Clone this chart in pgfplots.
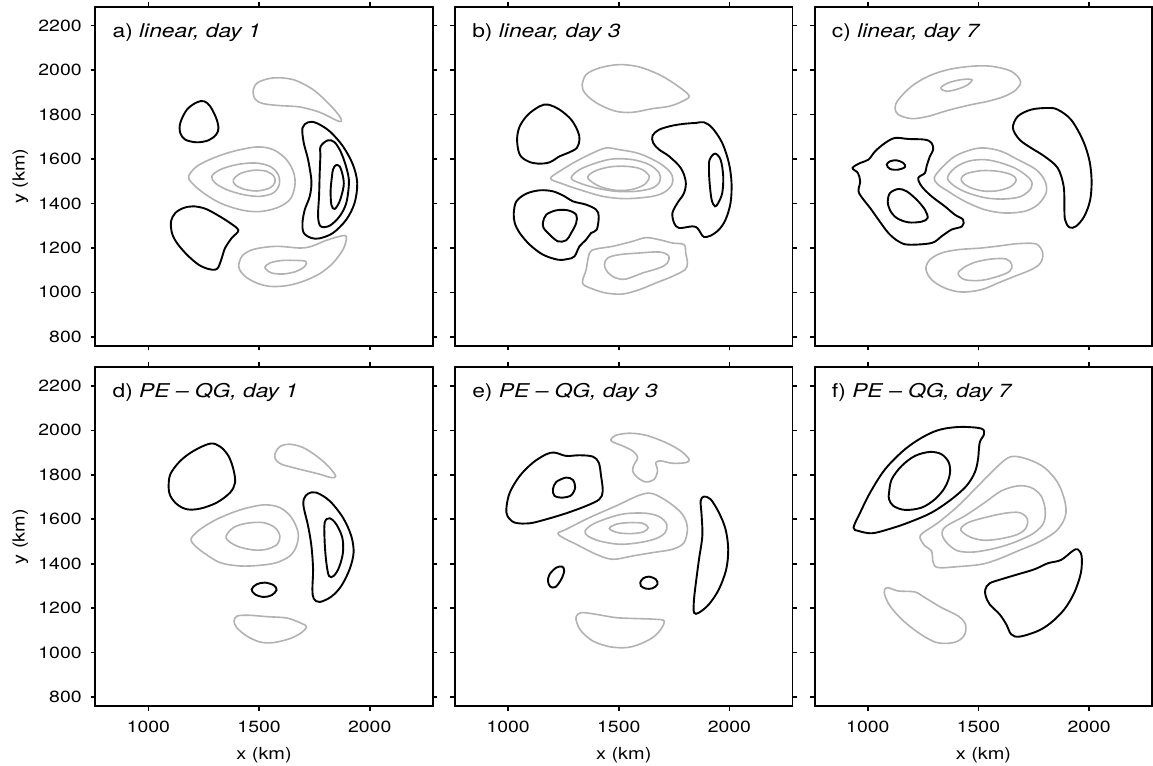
\documentclass[border=0pt]{standalone}
\usepackage{fontspec}
\setmainfont{TeX Gyre Heros}
\usepackage{graphicx}
\usepackage{pgfplots}
\pgfplotsset{compat=1.18}
\usepgfplotslibrary{groupplots}
\definecolor{poscol}{RGB}{178,178,178}
% text in this figure is set slightly wide
\newcommand{\wide}[1]{\scalebox{1.2}[1]{#1}}
\pgfplotsset{
  pos/.style={color=poscol, line width=0.8pt, smooth cycle, tension=0.55, mark=none},
  neg/.style={color=black, line width=0.95pt, smooth cycle, tension=0.55, mark=none},
}
\newcommand{\paneltitle}[1]{\node[anchor=base west, inner sep=0pt, font=\fontsize{9.5}{11}\selectfont] at (rel axis cs:0.05,0.909) {\wide{#1}};}
\begin{document}
\begin{tikzpicture}
\begin{groupplot}[
  group style={group size=3 by 2, horizontal sep=11.1pt, vertical sep=10.65pt,
    xticklabels at=edge bottom, yticklabels at=edge left,
    xlabels at=edge bottom, ylabels at=edge left},
  width=168.75pt, height=169.5pt, scale only axis,
  xmin=760, xmax=2285, ymin=760, ymax=2285,
  xtick={1000,1500,2000}, ytick={800,1000,...,2200},
  tick align=outside, tick pos=both, major tick length=2.3pt,
  axis line style={line width=0.8pt},
  every tick/.style={line width=0.8pt, black},
  ticklabel style={font=\fontsize{8.1}{9.5}\selectfont},
  xticklabel={\wide{\pgfmathprintnumber{\tick}}},
  yticklabel={\wide{\pgfmathprintnumber{\tick}}},
  xticklabel style={yshift=-1.5pt},
  yticklabel style={xshift=-1pt},
  xlabel={\wide{x (km)}}, ylabel={\wide{y (km)}},
  every axis x label/.style={at={(axis description cs:0.5,-0.1445)}, anchor=center, font=\fontsize{8.3}{10}\selectfont},
  every axis y label/.style={at={(axis description cs:-0.222,0.5)}, rotate=90, anchor=center, font=\fontsize{8.3}{10}\selectfont},
  /pgf/number format/1000 sep={}, /pgf/number format/assume math mode=true,
]
% ---------- a) linear, day 1 ----------
\nextgroupplot
\coordinate (TL) at (rel axis cs:0,1);
\paneltitle{a) \textit{linear, day 1}}
\addplot[neg] coordinates {(1144,1762) (1174,1822) (1219,1855) (1252,1859.5) (1279,1837) (1306,1784.5) (1316.5,1739.5) (1306,1709.5) (1271.5,1684) (1219,1675) (1166.5,1687) (1144,1717)};
\addplot[neg] coordinates {(1102,1319.5) (1121.5,1357) (1159,1379.5) (1204,1387) (1256.5,1376.5) (1309,1349.5) (1369,1312) (1406.5,1279) (1376.5,1244.5) (1346.5,1199.5) (1331.5,1154.5) (1316.5,1114) (1301.5,1102) (1271.5,1105) (1226.5,1124.5) (1174,1169.5) (1129,1222) (1106.5,1267)};
\addplot[pos] coordinates {(1181.5,1522) (1219,1567) (1294,1604.5) (1384,1634.5) (1489,1654) (1564,1642) (1624,1597) (1657,1537) (1661.5,1477) (1639,1417) (1579,1379.5) (1496.5,1363) (1414,1372) (1324,1402) (1249,1447) (1196.5,1492)};
\addplot[pos] coordinates {(1286.5,1522) (1324,1552) (1399,1574.5) (1481.5,1582) (1549,1567) (1586.5,1529.5) (1591,1484.5) (1564,1447) (1504,1432) (1429,1439.5) (1354,1462) (1301.5,1492)};
\addplot[pos] coordinates {(1384,1507) (1414,1534) (1474,1549) (1534,1544.5) (1567,1522) (1571.5,1495) (1549,1469.5) (1489,1456) (1429,1465) (1391.5,1484.5)};
\addplot[pos] coordinates {(1474,1912) (1496.5,1945) (1564,1964.5) (1654,1957) (1744,1912) (1819,1844.5) (1864,1792) (1871.5,1769.5) (1849,1774) (1774,1810) (1684,1834) (1594,1840) (1519,1849) (1481.5,1870)};
\addplot[pos] coordinates {(1409.5,1132) (1429,1169.5) (1481.5,1195) (1579,1207) (1684,1199.5) (1736.5,1207) (1804,1234) (1864,1252) (1891,1255) (1894,1237) (1879,1192) (1834,1132) (1774,1084) (1699,1049.5) (1624,1030) (1549,1027) (1489,1042) (1436.5,1072) (1411,1105)};
\addplot[pos] coordinates {(1526.5,1114) (1549,1132) (1594,1142.5) (1654,1144) (1711,1139.5) (1706.5,1117) (1669,1094.5) (1609,1082.5) (1556.5,1087) (1534,1102)};
\addplot[neg] coordinates {(1696,1739.5) (1721.5,1765) (1759,1762) (1819,1724.5) (1879,1657) (1924,1574.5) (1943.5,1492) (1931.5,1402) (1894,1327) (1834,1267) (1774,1243) (1736.5,1244.5) (1702,1267) (1696,1312) (1706.5,1372) (1729,1432) (1736.5,1499.5) (1721.5,1597) (1702,1672)};
\addplot[neg] coordinates {(1778.5,1657) (1811.5,1684) (1841.5,1675) (1871.5,1627) (1897,1552) (1906,1492) (1894,1402) (1864,1342) (1819,1300) (1778.5,1297) (1766.5,1342) (1771,1432) (1774,1537) (1777,1612)};
\addplot[neg] coordinates {(1834,1552) (1846,1571.5) (1864,1567) (1879,1522) (1882,1477) (1864,1409.5) (1841.5,1375) (1826.5,1394.5) (1823.5,1462) (1829.5,1522)};
% ---------- b) linear, day 3 ----------
\nextgroupplot
\paneltitle{b) \textit{linear, day 3}}
\addplot[pos] coordinates {(1334.5,1934.5) (1352.5,1979.5) (1412.5,2009.5) (1502.5,2024.5) (1592.5,2014) (1682.5,1979.5) (1757.5,1934.5) (1817.5,1885) (1787.5,1859.5) (1727.5,1837) (1652.5,1826.5) (1562.5,1810) (1487.5,1814.5) (1412.5,1844.5) (1360,1882) (1337.5,1912)};
\addplot[neg] coordinates {(1040.5,1687) (1052.5,1747) (1090,1799.5) (1142.5,1837) (1180,1844.5) (1232.5,1822) (1285,1777) (1315,1724.5) (1322.5,1687) (1310.5,1649.5) (1270,1627) (1232.5,1612) (1187.5,1585) (1135,1579) (1090,1589.5) (1052.5,1619.5)};
\addplot[neg] coordinates {(1025.5,1357) (1037.5,1409.5) (1082.5,1444) (1142.5,1459) (1202.5,1454.5) (1255,1432) (1292.5,1409.5) (1352.5,1394.5) (1397.5,1372) (1409.5,1342) (1400.5,1282) (1375,1267) (1352.5,1237) (1322.5,1207) (1300,1162) (1270,1150) (1225,1147) (1157.5,1169.5) (1097.5,1214.5) (1052.5,1267) (1030,1312)};
\addplot[neg] coordinates {(1157.5,1315) (1172.5,1349.5) (1217.5,1369) (1270,1369) (1307.5,1349.5) (1307.5,1312) (1285,1267) (1262.5,1234) (1225,1229.5) (1187.5,1259.5) (1160.5,1289.5)};
\addplot[pos] coordinates {(1192,1511.5) (1232.5,1544.5) (1307.5,1589.5) (1382.5,1627) (1442.5,1649.5) (1502.5,1642) (1592.5,1624) (1682.5,1582) (1735,1537) (1742.5,1492) (1712.5,1454.5) (1652.5,1432) (1532.5,1421.5) (1427.5,1432) (1322.5,1462) (1247.5,1487.5)};
\addplot[pos] coordinates {(1285,1514.5) (1322.5,1552) (1397.5,1582) (1472.5,1600) (1562.5,1597) (1637.5,1574.5) (1682.5,1537) (1685.5,1499.5) (1652.5,1469.5) (1577.5,1454.5) (1487.5,1454.5) (1397.5,1469.5) (1322.5,1492)};
\addplot[pos] coordinates {(1360,1514.5) (1390,1544.5) (1457.5,1564) (1532.5,1567) (1600,1555) (1637.5,1522) (1615,1484.5) (1555,1462) (1487.5,1459) (1412.5,1477)};
\addplot[pos] coordinates {(1337.5,1057) (1352.5,1102) (1367.5,1177) (1397.5,1195) (1472.5,1207) (1562.5,1229.5) (1622.5,1246) (1682.5,1237) (1742.5,1222) (1795,1214.5) (1802.5,1177) (1810,1132) (1799.5,1102) (1742.5,1072) (1667.5,1042) (1592.5,1012) (1517.5,992.5) (1442.5,997) (1382.5,1015) (1340.5,1034.5)};
\addplot[pos] coordinates {(1435,1124.5) (1450,1154.5) (1502.5,1169.5) (1592.5,1177) (1682.5,1181.5) (1724.5,1165) (1720,1132) (1682.5,1109.5) (1607.5,1087) (1532.5,1060) (1487.5,1064.5) (1450,1090)};
\addplot[neg] coordinates {(1652.5,1705) (1682.5,1732) (1742.5,1750) (1802.5,1759) (1847.5,1762) (1885,1765) (1922.5,1739.5) (1967.5,1672) (1997.5,1582) (2009.5,1492) (2005,1402) (1982.5,1327) (1952.5,1282) (1915,1255) (1885,1249) (1870,1267) (1855,1289.5) (1832.5,1297) (1772.5,1289.5) (1750,1312) (1742.5,1357) (1765,1402) (1795,1447) (1802.5,1499.5) (1780,1559.5) (1727.5,1612) (1682.5,1642) (1655.5,1672)};
\addplot[neg] coordinates {(1910.5,1597) (1934.5,1624) (1960,1597) (1972,1522) (1967.5,1447) (1949.5,1402) (1934.5,1387) (1919.5,1417) (1910.5,1492) (1907.5,1552)};
% ---------- c) linear, day 7 ----------
\nextgroupplot
\paneltitle{c) \textit{linear, day 7}}
\addplot[pos] coordinates {(1123,1829.5) (1138,1867) (1198,1927) (1273,1972) (1363,2002) (1468,2017) (1558,2017) (1648,1994.5) (1690,1949.5) (1670.5,1912) (1618,1882) (1543,1859.5) (1468,1844.5) (1363,1819) (1273,1792) (1198,1781.5) (1138,1799.5)};
\addplot[pos] coordinates {(1330,1919.5) (1363,1942) (1423,1957) (1470,1957) (1453,1934.5) (1408,1915) (1355.5,1904.5)};
\addplot[neg] coordinates {(1655.5,1739.5) (1678,1792) (1738,1822) (1813,1829.5) (1858,1822) (1918,1777) (1970.5,1687) (2000.5,1597) (2011,1507) (2005,1417) (1978,1342) (1940.5,1297) (1910.5,1292.5) (1891,1327) (1888,1387) (1885,1477) (1858,1559.5) (1798,1612) (1738,1649.5) (1685.5,1687)};
\addplot[neg] coordinates {(931,1559.5) (965.5,1582) (1003,1597) (1033,1634.5) (1078,1672) (1123,1694.5) (1183,1690) (1258,1687) (1288,1672) (1295.5,1642) (1280.5,1612) (1265.5,1567) (1258,1537) (1228,1514.5) (1243,1477) (1288,1432) (1348,1387) (1393,1349.5) (1430.5,1327) (1426,1297) (1378,1282) (1333,1252) (1288,1222) (1183,1214.5) (1138,1229.5) (1093,1267) (1048,1327) (1010.5,1379.5) (980.5,1417) (958,1454.5) (965.5,1499.5) (955,1537)};
\addplot[neg] coordinates {(1085.5,1574.5) (1100.5,1589.5) (1130.5,1594) (1160.5,1582) (1168,1564) (1138,1552) (1100.5,1555)};
\addplot[neg] coordinates {(1090,1409.5) (1100.5,1447) (1138,1465) (1175.5,1454.5) (1220.5,1417) (1258,1372) (1270,1334.5) (1243,1318) (1183,1315) (1130.5,1334.5) (1100.5,1369)};
\addplot[pos] coordinates {(1300,1514.5) (1333,1559.5) (1393,1612) (1468,1642) (1528,1649.5) (1603,1634.5) (1678,1597) (1760.5,1552) (1801,1499.5) (1805.5,1447) (1768,1394.5) (1708,1364.5) (1618,1357) (1528,1372) (1438,1409.5) (1363,1454.5) (1318,1484.5)};
\addplot[pos] coordinates {(1360,1514.5) (1393,1559.5) (1453,1589.5) (1528,1597) (1603,1582) (1678,1552) (1735,1507) (1738,1469.5) (1693,1432) (1618,1420) (1535.5,1424.5) (1453,1447) (1393,1477)};
\addplot[pos] coordinates {(1423,1514.5) (1445.5,1534) (1513,1547.5) (1588,1544.5) (1648,1529.5) (1670.5,1507) (1648,1477) (1588,1457.5) (1520.5,1456) (1460.5,1472.5) (1427.5,1495)};
\addplot[pos] coordinates {(1262.5,1105) (1280.5,1147) (1333,1177) (1408,1192) (1513,1199.5) (1603,1210) (1678,1219) (1760.5,1217.5) (1790.5,1177) (1780,1132) (1738,1102) (1663,1072) (1588,1042) (1513,1012) (1423,1001.5) (1348,1019.5) (1288,1057)};
\addplot[pos] coordinates {(1408,1084) (1430.5,1109.5) (1483,1135) (1558,1150) (1625.5,1150) (1651,1124.5) (1640.5,1094.5) (1588,1072) (1513,1054) (1438,1057)};
% ---------- d) PE - QG, day 1 ----------
\nextgroupplot
\paneltitle{d) \textit{PE -- QG, day 1}}
\addplot[neg] coordinates {(1091.5,1742.5) (1099,1802.5) (1144,1862.5) (1204,1907.5) (1279,1940.5) (1324,1927) (1361.5,1885) (1384,1825) (1391.5,1765) (1369,1720) (1309,1675) (1234,1648) (1174,1645) (1129,1667.5) (1099,1705)};
\addplot[pos] coordinates {(1571.5,1892.5) (1594,1927) (1639,1937.5) (1699,1922.5) (1759,1885) (1811.5,1840) (1846,1795) (1826.5,1787.5) (1774,1802.5) (1714,1817.5) (1654,1832.5) (1601.5,1847.5) (1576,1867)};
\addplot[pos] coordinates {(1193.5,1514.5) (1234,1555) (1309,1600) (1414,1642) (1519,1664.5) (1594,1652.5) (1646.5,1607.5) (1676.5,1540) (1669,1480) (1639,1435) (1579,1405) (1504,1393) (1414,1390) (1324,1405) (1249,1450) (1204,1487.5)};
\addplot[pos] coordinates {(1351,1525) (1384,1562.5) (1444,1582) (1519,1585) (1571.5,1562.5) (1594,1525) (1582,1487.5) (1534,1465) (1474,1462) (1406.5,1477) (1361.5,1502.5)};
\addplot[neg] coordinates {(1466.5,1285) (1489,1307.5) (1526.5,1315) (1567,1303) (1579,1282) (1556.5,1258) (1519,1250.5) (1481.5,1262.5)};
\addplot[pos] coordinates {(1387,1142.5) (1402,1165) (1459,1168) (1534,1162) (1624,1156) (1684,1135) (1714,1117) (1691.5,1090) (1639,1063) (1564,1045) (1504,1048) (1444,1075) (1399,1112.5)};
\addplot[neg] coordinates {(1702,1690) (1721.5,1715.5) (1759,1720) (1819,1682.5) (1879,1607.5) (1916.5,1525) (1927,1450) (1909,1375) (1871.5,1300) (1826.5,1252) (1774,1228) (1747,1243) (1741,1285) (1744,1375) (1736.5,1480) (1721.5,1570) (1702,1652.5)};
\addplot[neg] coordinates {(1796.5,1585) (1819,1604.5) (1849,1577.5) (1876,1517.5) (1879,1450) (1861,1382.5) (1837,1345) (1816,1345) (1804,1405) (1796.5,1495)};
% ---------- e) PE - QG, day 3 ----------
\nextgroupplot
\paneltitle{e) \textit{PE -- QG, day 3}}
\addplot[pos] coordinates {(1465,1960) (1487.5,1978) (1547.5,1987) (1622.5,1978) (1712.5,1945) (1780,1907.5) (1817.5,1870) (1802.5,1855) (1742.5,1852) (1690,1862.5) (1667.5,1855) (1675,1817.5) (1660,1780) (1622.5,1768) (1585,1787.5) (1562.5,1817.5) (1570,1847.5) (1585,1877.5) (1562.5,1907.5) (1517.5,1930) (1472.5,1948)};
\addplot[neg] coordinates {(992.5,1652.5) (1007.5,1720) (1052.5,1795) (1112.5,1855) (1172.5,1892.5) (1210,1900) (1262.5,1885) (1322.5,1888) (1382.5,1882) (1409.5,1855) (1420,1795) (1427.5,1727.5) (1412.5,1690) (1352.5,1660) (1262.5,1627) (1172.5,1600) (1097.5,1582) (1030,1585) (997,1615)};
\addplot[neg] coordinates {(1202.5,1735) (1217.5,1768) (1262.5,1787.5) (1292.5,1777) (1303,1742.5) (1285,1708) (1247.5,1697.5) (1210,1705)};
\addplot[pos] coordinates {(1225,1537) (1262.5,1555) (1367.5,1607.5) (1487.5,1660) (1592.5,1708) (1652.5,1715.5) (1727.5,1675) (1787.5,1622.5) (1810,1562.5) (1795,1495) (1742.5,1465) (1652.5,1450) (1562.5,1435) (1472.5,1420) (1397.5,1442.5) (1307.5,1487.5) (1247.5,1517.5)};
\addplot[pos] coordinates {(1348,1547.5) (1382.5,1577.5) (1457.5,1607.5) (1532.5,1625.5) (1622.5,1627) (1682.5,1612) (1717,1577.5) (1709.5,1540) (1667.5,1513) (1592.5,1495) (1502.5,1487.5) (1412.5,1502.5) (1360,1525)};
\addplot[pos] coordinates {(1457.5,1558) (1487.5,1577.5) (1547.5,1585) (1607.5,1582) (1633,1562.5) (1610.5,1543) (1555,1535.5) (1495,1540)};
\addplot[neg] coordinates {(1870,1682.5) (1885,1702) (1915,1690) (1952.5,1630) (1982.5,1555) (1994.5,1465) (1985.5,1375) (1952.5,1285) (1907.5,1217.5) (1862.5,1180) (1840,1180) (1840,1240) (1850.5,1330) (1862.5,1420) (1877.5,1525) (1874.5,1615)};
\addplot[neg] coordinates {(1180,1322.5) (1187.5,1352.5) (1217.5,1382.5) (1244.5,1387) (1253.5,1367.5) (1240,1330) (1214.5,1295.5) (1190.5,1297)};
\addplot[neg] coordinates {(1597,1315) (1610.5,1334.5) (1637.5,1342) (1667.5,1330) (1675,1307.5) (1652.5,1289.5) (1622.5,1288) (1600,1300)};
\addplot[pos] coordinates {(1307.5,1162) (1330,1180) (1397.5,1172.5) (1487.5,1157.5) (1592.5,1153) (1667.5,1150) (1705,1142.5) (1690,1105) (1652.5,1067.5) (1592.5,1037.5) (1532.5,1022.5) (1457.5,1027) (1382.5,1052.5) (1330,1097.5) (1310.5,1135)};
% ---------- f) PE - QG, day 7 ----------
\nextgroupplot
\paneltitle{f) \textit{PE -- QG, day 7}}
\coordinate (BR) at (rel axis cs:1,0);
\addplot[neg] coordinates {(935.5,1562.5) (965.5,1630) (1010.5,1720) (1078,1825) (1168,1915) (1258,1975) (1333,2005) (1423,2015.5) (1513,2008) (1525,1982.5) (1505.5,1945) (1498,1870) (1483,1810) (1445.5,1750) (1378,1690) (1288,1630) (1183,1585) (1093,1555) (1018,1537) (958,1547.5)};
\addplot[neg] coordinates {(1096,1720) (1108,1780) (1153,1840) (1213,1885) (1280.5,1903) (1333,1892.5) (1366,1855) (1370.5,1802.5) (1348,1742.5) (1303,1690) (1243,1652.5) (1168,1642) (1115.5,1660) (1096,1690)};
\addplot[pos] coordinates {(1235.5,1517.5) (1250.5,1540) (1318,1585) (1408,1660) (1498,1750) (1588,1840) (1648,1882) (1723,1870) (1798,1832.5) (1858,1765) (1888,1690) (1895.5,1630) (1880.5,1585) (1843,1540) (1768,1495) (1678,1457.5) (1588,1420) (1513,1397.5) (1408,1387) (1318,1382.5) (1295.5,1405) (1288,1457.5) (1258,1480)};
\addplot[pos] coordinates {(1336,1543) (1355.5,1570) (1438,1615) (1528,1675) (1603,1727.5) (1678,1750) (1738,1742.5) (1783,1705) (1801,1645) (1795,1585) (1753,1540) (1678,1502.5) (1588,1472.5) (1483,1453) (1408,1457.5) (1363,1487.5) (1340.5,1517.5)};
\addplot[pos] coordinates {(1420,1558) (1453,1585) (1528,1607.5) (1618,1627) (1685.5,1630) (1720,1603) (1715.5,1562.5) (1678,1532.5) (1603,1513) (1528,1505.5) (1468,1517.5) (1430.5,1540)};
\addplot[neg] coordinates {(1531,1285) (1550.5,1312) (1603,1330) (1678,1352.5) (1753,1375) (1813,1402) (1873,1417) (1925.5,1457.5) (1948,1465) (1966,1435) (1963,1360) (1933,1270) (1888,1195) (1828,1135) (1768,1097.5) (1685.5,1072) (1648,1082.5) (1625.5,1127.5) (1595.5,1172.5) (1550.5,1217.5) (1532.5,1255)};
\addplot[pos] coordinates {(1075,1280.5) (1090,1292.5) (1138,1277.5) (1213,1273) (1258,1247.5) (1333,1202.5) (1408,1165) (1441,1127.5) (1438,1082.5) (1408,1052.5) (1363,1042) (1303,1048) (1228,1090) (1153,1150) (1100.5,1210) (1078,1255)};
\end{groupplot}
\pgfresetboundingbox
\path ([shift={(-47.65pt,3.35pt)}]TL) rectangle ([shift={(0.4pt,-30pt)}]BR);
\end{tikzpicture}
\end{document}
